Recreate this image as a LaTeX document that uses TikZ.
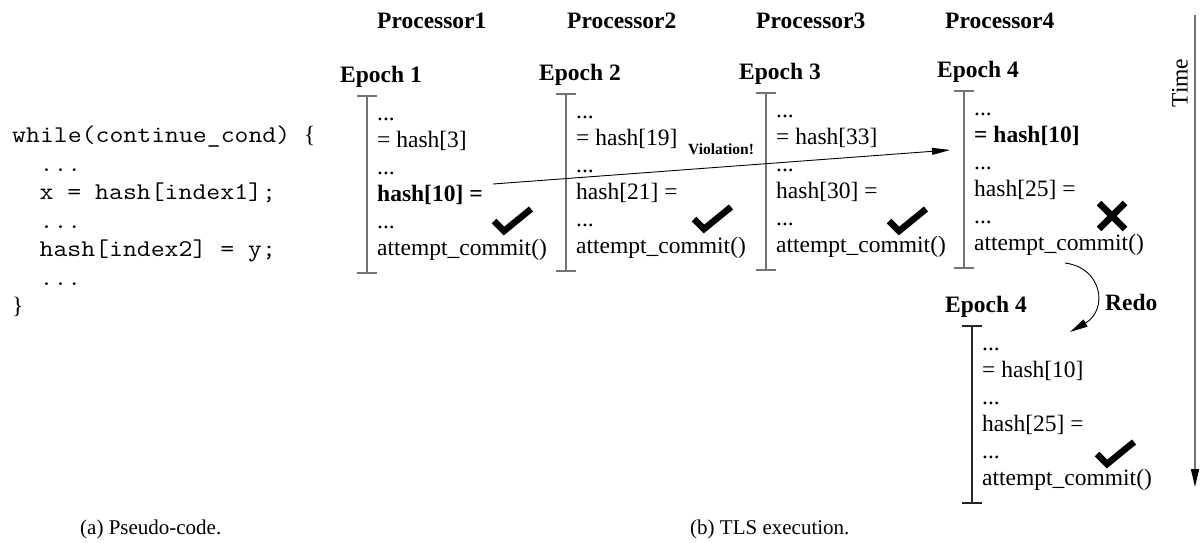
\documentclass[tikz,border=0pt]{standalone}
\usepackage{fontspec}
\setmainfont{Liberation Serif}
\newfontfamily\codefont{Latin Modern Mono}
\usetikzlibrary{arrows.meta}

% typewriter lines, widened to the pitch of the listing
\newcommand\codeline[1]{\scalebox{1.125}[1]{#1}}

\tikzset{
  txt/.style={inner sep=0pt, anchor=base west, font=\fontsize{23.5}{27}\selectfont},
  boldtxt/.style={inner sep=0pt, anchor=base west, font=\fontsize{23.5}{27}\selectfont\bfseries},
  code/.style={inner sep=0pt, anchor=base west, font=\fontsize{24}{28}\selectfont\codefont},
  caption/.style={inner sep=0pt, anchor=base west, font=\fontsize{21}{25}\selectfont},
  smallbold/.style={inner sep=0pt, anchor=base west, font=\fontsize{15.5}{18}\selectfont\bfseries},
  bracket/.style={line width=1.5pt},
  conflict/.style={line width=0.9pt, -{Triangle[length=18pt,width=7pt]}},
  redoarrow/.style={line width=0.9pt, -{Triangle[length=18pt,width=8pt]}},
  timeaxis/.style={line width=1.5pt, draw=black!55, -{Triangle[length=18pt,width=8pt,color=black]}},
  okmark/.pic={\draw[line width=6.5pt] (-10,-10) -- (0,0) -- (27,-22);},
  failmark/.pic={\draw[line width=6.5pt] (-13,-13) -- (13,13) (-13,13) -- (13,-13);},
}

% One epoch: title, bracket and six lines of code.
% #1 name, #2 bracket x, #3 first baseline, #4 title, #5 second line, #6 fourth line, #7 bracket colour
\newcommand\epochcol[7]{%
  \node[boldtxt] (#1-title) at (#2-27,#3-38) {#4};
  \draw[bracket, draw=#7] (#2-10,#3-24) -- (#2+10,#3-24)
       (#2,#3-24) -- (#2,#3+153)
       (#2-10,#3+153) -- (#2+10,#3+153);
  \node[txt] (#1-l1) at (#2+10,#3) {...};
  \node[txt] (#1-l2) at (#2+10,#3+27) {#5};
  \node[txt] (#1-l3) at (#2+10,#3+54) {...};
  \node[txt] (#1-l4) at (#2+10,#3+81) {#6};
  \node[txt] (#1-l5) at (#2+10,#3+108) {...};
  \node[txt] (#1-l6) at (#2+10,#3+135) {attempt\_commit()};
}

\begin{document}
\begin{tikzpicture}[x=1pt, y=-1pt]
\fill[white] (0,0) rectangle (1202,542);
\useasboundingbox (0,0) rectangle (1202,542);

% pseudo-code
\node[code] (c1) at (12,142) {\codeline{while(continue\_cond) }{\rmfamily\fontsize{23.5}{27}\selectfont\{}};
\node[code] (c2) at (39.4,171) {\codeline{...}};
\node[code] (c3) at (39.4,199.5) {\codeline{x = hash[index1];}};
\node[code] (c4) at (39.4,228) {\codeline{...}};
\node[code] (c5) at (39.4,256.5) {\codeline{hash[index2] = y;}};
\node[code] (c6) at (39.4,285) {\codeline{...}};
\node[code] (c7) at (12,313.5) {\rmfamily\fontsize{23.5}{27}\selectfont\}};

% processors
\node[boldtxt] (p1) at (377,28) {Processor1};
\node[boldtxt] (p2) at (567,28) {Processor2};
\node[boldtxt] (p3) at (756,28) {Processor3};
\node[boldtxt] (p4) at (945,28) {Processor4};

% epochs
\epochcol{e1}{367}{120}{Epoch 1}{= hash[3]}{\textbf{hash[10] =}}{black!55}
\epochcol{e2}{566}{118}{Epoch 2}{= hash[19]}{hash[21] =}{black!55}
\epochcol{e3}{766}{117}{Epoch 3}{= hash[33]}{hash[30] =}{black!55}
\epochcol{e4}{964}{115}{Epoch 4}{\textbf{= hash[10]}}{hash[25] =}{black!55}
\epochcol{e5}{972}{350}{Epoch 4}{= hash[10]}{hash[25] =}{black!85}

% commit outcomes
\pic (ok1) at (504,231) {okmark};
\pic (ok2) at (704,229) {okmark};
\pic (ok3) at (899,231) {okmark};
\pic (fail4) at (1112,216) {failmark};
\pic (ok5) at (1107,464) {okmark};

% dependence violation
\coordinate (vfrom) at (493,184);
\coordinate (vto) at (950,150);
\draw[conflict] (vfrom) -- (vto);
\node[smallbold] (viol) at (688,154) {Violation!};

% re-execution
\coordinate (rfrom) at (1065,263);
\coordinate (rto) at (1070,332);
\draw[redoarrow] (rfrom) .. controls (1103,268) and (1108,310) .. (rto);
\node[boldtxt] (redo) at (1105,310) {Redo};

% time axis
\coordinate (ttop) at (1195,15);
\coordinate (tbot) at (1195,487);
\draw[timeaxis] (ttop) -- (tbot);
\node[inner sep=0pt, font=\fontsize{23.5}{27}\selectfont, rotate=90] (time) at (1180,83) {Time};

% captions
\node[caption] (capa) at (80,534) {(a) Pseudo-code.};
\node[caption] (capb) at (690,534) {(b) TLS execution.};
\end{tikzpicture}
\end{document}
